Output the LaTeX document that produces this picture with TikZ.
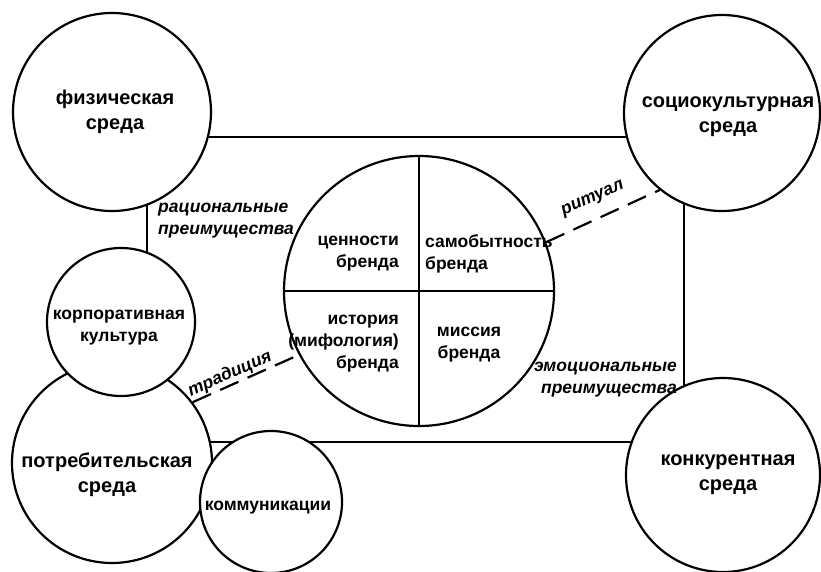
\documentclass[tikz,border=0pt]{standalone}
\usepackage{fontspec}
\setmainfont{Liberation Sans}
\begin{document}
\begin{tikzpicture}[
    x=1pt, y=-1pt,
    sphere/.style={circle,draw,fill=white,line width=2.2pt,inner sep=0pt},
    big/.style={align=center,inner sep=0pt,font=\fontsize{20}{25}\selectfont\bfseries},
    part/.style={inner sep=0pt,font=\fontsize{17.5}{22}\selectfont\bfseries},
    note/.style={inner sep=1pt,font=\fontsize{17.5}{22}\selectfont\bfseries\itshape},
    link/.style={line width=2.2pt,dash pattern=on 20pt off 10pt},
    frame/.style={line width=2.2pt}
]
    \useasboundingbox (0,0) rectangle (821,572);

    % frame behind the circles
    \coordinate (nw) at (147,137);
    \coordinate (se) at (684,442);
    \draw[frame] (nw) rectangle (se);

    % outer environments
    \node[sphere,minimum size=198pt] (phys) at (112,112) {};
    \node[sphere,minimum size=196pt] (socio) at (722,113) {};
    \node[sphere,minimum size=194pt] (rival) at (723,475) {};
    \node[sphere,minimum size=200pt] (consumer) at (112,463) {};
    \node[sphere,minimum size=148pt] (corp) at (121,322) {};
    \node[sphere,minimum size=142pt] (comm) at (271,502) {};
    \node[big] (phys-t) at (115,112) {физическая\\среда};
    \node[big] (socio-t) at (728,117) {социокультурная\\среда};
    \node[big] (rival-t) at (728,475) {конкурентная\\среда};
    \node[big] (consumer-t) at (107,475) {потребительская\\среда};
    \node[part,align=center] (corp-t) at (119,328) {корпоративная\\культура};
    \node[part] (comm-t) at (268,508) {коммуникации};

    % brand core
    \node[circle,draw,line width=2.2pt,minimum size=270pt] (brand) at (419,291) {};
    \draw[frame] (brand.north) -- (brand.south);
    \draw[frame] (brand.west) -- (brand.east);
    \node[part,align=right,anchor=east] (values) at (399,254) {ценности\\бренда};
    \node[part,align=left,anchor=west] (identity) at (425,254) {самобытность\\бренда};
    \node[part,align=right,anchor=east] (history) at (399,344) {история\\(мифология)\\бренда};
    \node[part,align=center] (mission) at (469,345) {миссия\\бренда};

    % dashed links
    \draw[link] (brand.21) -- (socio.231);
    \draw[link] (consumer.37) -- (brand.208);
    \node[note,rotate=24] (ritual) at (593,199) {ритуал};
    \node[note,rotate=24] (tradition) at (230,374) {традиция};

    % benefits
    \node[note,align=left,anchor=west] (rational) at (157,221) {рациональные\\преимущества};
    \node[note,align=right,anchor=east] (emotional) at (678,380) {эмоциональные\\преимущества};
\end{tikzpicture}
\end{document}
